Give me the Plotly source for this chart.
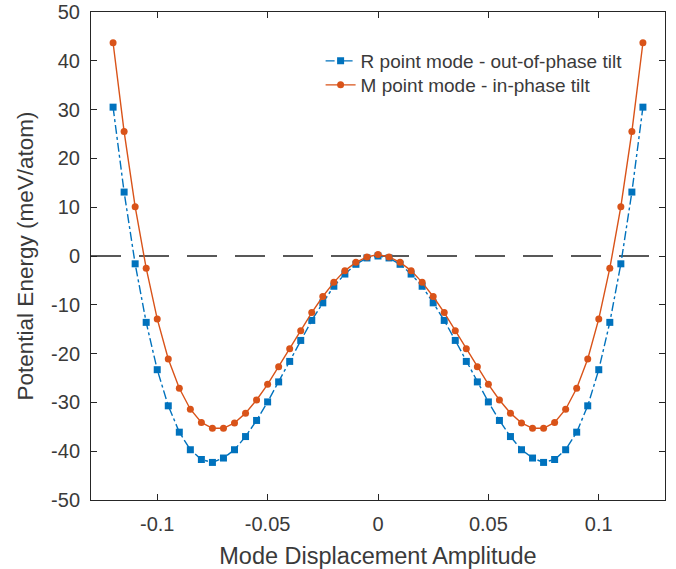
import plotly.graph_objects as go

x_vals = [-0.12, -0.115, -0.11, -0.105, -0.1, -0.095, -0.09, -0.085, -0.08, -0.075,
          -0.07, -0.065, -0.06, -0.055, -0.05, -0.045, -0.04, -0.035, -0.03, -0.025,
          -0.02, -0.015, -0.01, -0.005, 0.0, 0.005, 0.01, 0.015, 0.02, 0.025,
          0.03, 0.035, 0.04, 0.045, 0.05, 0.055, 0.06, 0.065, 0.07, 0.075,
          0.08, 0.085, 0.09, 0.095, 0.1, 0.105, 0.11, 0.115, 0.12]

r_mode = [30.5, 13.1, -1.6, -13.6, -23.3, -30.7, -36.1, -39.7, -41.7, -42.3,
          -41.4, -39.7, -37.0, -33.7, -29.9, -25.8, -21.6, -17.3, -13.2, -9.6,
          -6.2, -3.7, -1.7, -0.4, 0.0, -0.4, -1.7, -3.7, -6.2, -9.6,
          -13.2, -17.3, -21.6, -25.8, -29.9, -33.7, -37.0, -39.7, -41.4, -42.3,
          -41.7, -39.7, -36.1, -30.7, -23.3, -13.6, -1.6, 13.1, 30.5]

m_mode = [43.7, 25.5, 10.1, -2.5, -12.9, -21.1, -27.1, -31.4, -34.1, -35.3,
          -35.3, -34.2, -32.2, -29.5, -26.3, -22.7, -19.0, -15.3, -11.6, -8.3,
          -5.4, -3.0, -1.3, -0.2, 0.3, -0.2, -1.3, -3.0, -5.4, -8.3,
          -11.6, -15.3, -19.0, -22.7, -26.3, -29.5, -32.2, -34.2, -35.3, -35.3,
          -34.1, -31.4, -27.1, -21.1, -12.9, -2.5, 10.1, 25.5, 43.7]

series_names = ["R point mode - out-of-phase tilt", "M point mode - in-phase tilt"]

x_ticks = [-0.1, -0.05, 0, 0.05, 0.1]
x_ticktext = ["-0.1", "-0.05", "0", "0.05", "0.1"]
y_ticks = [-50, -40, -30, -20, -10, 0, 10, 20, 30, 40, 50]
y_ticktext = ["-50", "-40", "-30", "-20", "-10", "0", "10", "20", "30", "40", "50"]

BLUE = "#0072BD"
ORANGE = "#D95319"
AXC = "#262626"
TXT = "#3a3a3a"
FONT = "Liberation Sans, Arial, Helvetica, sans-serif"

fig = go.Figure()

fig.add_hline(y=0, line=dict(color="#222222", width=1.3, dash="30px,18px"), layer="below")

fig.add_trace(go.Scatter(
    x=x_vals, y=r_mode, name=series_names[0], mode="lines+markers",
    line=dict(color=BLUE, width=1.4, dash="dashdot"),
    marker=dict(symbol="square", size=7, color=BLUE),
    legend="legend",
))
fig.add_trace(go.Scatter(
    x=x_vals, y=m_mode, name=series_names[1], mode="lines+markers",
    line=dict(color=ORANGE, width=1.4),
    marker=dict(symbol="circle", size=7, color=ORANGE),
    legend="legend2",
))

leg_common = dict(xanchor="left", yanchor="middle", bgcolor="rgba(0,0,0,0)",
                  borderwidth=0, font=dict(size=19, color=TXT))

# plot area: x 91..665, y 12..500 (page pixels)
fig.update_layout(
    width=676, height=569,
    margin=dict(l=91, r=11, t=12, b=69, autoexpand=False),
    paper_bgcolor="white", plot_bgcolor="white",
    font=dict(family=FONT, color=TXT, size=20),
    showlegend=True,
    legend=dict(x=0.40, y=(500 - 61) / 488, **leg_common),
    legend2=dict(x=0.40, y=(500 - 85) / 488, **leg_common),
)
fig.update_xaxes(
    range=[-0.13, 0.13], tickvals=x_ticks, ticktext=x_ticktext, automargin=False,
    showline=True, linecolor=AXC, linewidth=1, mirror="ticks",
    ticks="inside", ticklen=6, tickcolor=AXC, showgrid=False, zeroline=False,
    tickfont=dict(size=20, color=TXT), ticklabelstandoff=6, ticklabeloverflow="allow",
    title=dict(text="Mode Displacement Amplitude", font=dict(size=23.5, color=TXT), standoff=13),
)
fig.update_yaxes(
    range=[-50, 50], tickvals=y_ticks, ticktext=y_ticktext, automargin=False,
    showline=True, linecolor=AXC, linewidth=1, mirror="ticks",
    ticks="inside", ticklen=6, tickcolor=AXC, showgrid=False, zeroline=False,
    tickfont=dict(size=20, color=TXT), ticklabelstandoff=6, ticklabeloverflow="allow",
    title=dict(text="Potential Energy (meV/atom)", font=dict(size=22.5, color=TXT), standoff=11),
)

fig.write_html("out.html", config={"displayModeBar": False},
               post_script="document.body.style.margin='0';document.body.style.padding='0';")
